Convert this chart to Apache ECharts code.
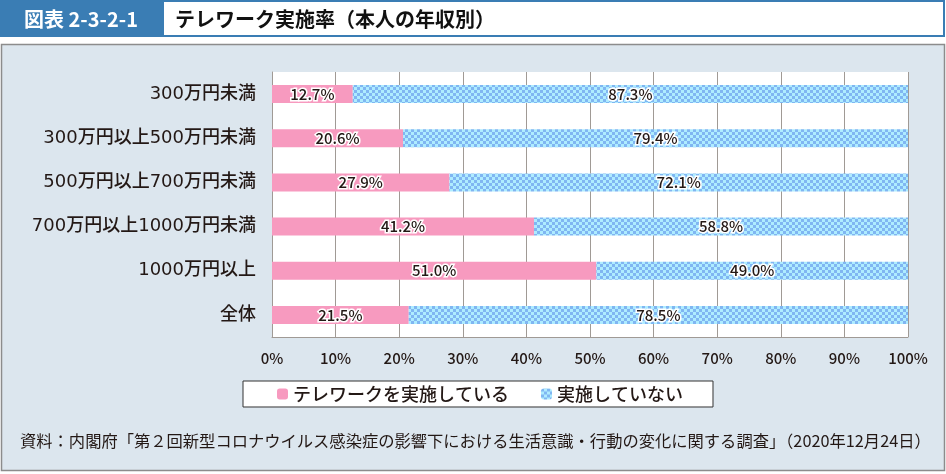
<!DOCTYPE html>
<html><head><meta charset="utf-8">
<script src="https://cdn.jsdelivr.net/npm/echarts@6/dist/echarts.min.js"></script>
<style>html,body{margin:0;padding:0;background:#fff}#c{width:946px;height:474px}</style>
</head><body><div id="c"></div>
<script>
const categories = ['300万円未満','300万円以上500万円未満','500万円以上700万円未満','700万円以上1000万円未満','1000万円以上','全体'];
const doingValues = [12.7, 20.6, 27.9, 41.2, 51.0, 21.5];
const notDoingValues = [87.3, 79.4, 72.1, 58.8, 49.0, 78.5];
const seriesNames = ['テレワークを実施している','実施していない'];
const xTickLabels = ['0%','10%','20%','30%','40%','50%','60%','70%','80%','90%','100%'];

const FONT = '"Noto Sans CJK JP", "Noto Sans", sans-serif';
const CATFONT = '"DejaVu Sans", "Noto Sans CJK JP", sans-serif';
const INK = '#231815';

const pc = document.createElement('canvas');
pc.width = 6; pc.height = 6;
const g = pc.getContext('2d');
g.fillStyle = '#aeecff'; g.fillRect(0,0,6,6);
g.fillStyle = '#80b6f2'; g.fillRect(0,0,3,3); g.fillRect(3,3,3,3);
const pattern = {image: pc, repeat: 'repeat'};

const chart = echarts.init(document.getElementById('c'), null, {renderer:'canvas'});
const lbl = {
  show: true, position: 'inside', color: INK, fontSize: 15, fontWeight: 500, fontFamily: FONT,
  textBorderColor: '#fff', textBorderWidth: 3,
  formatter: p => p.value.toFixed(1) + '%'
};
chart.setOption({
  animation: false,
  graphic: [
    {type:'rect', shape:{x:1.5,y:44.5,width:943,height:426}, style:{fill:'#dce6ee', stroke:'#8c8c8c', lineWidth:1.5}, z:-10},
    {type:'rect', shape:{x:1,y:1,width:943,height:35}, style:{fill:'#fff', stroke:'#3a7db4', lineWidth:2}, z:-10},
    {type:'rect', shape:{x:0,y:0,width:164,height:36}, style:{fill:'#3a7db4'}, z:-9},
    {type:'text', x:81, y:19, style:{text:'図表 2-3-2-1', fill:'#fff', font:'bold 20px '+FONT, align:'center', verticalAlign:'middle'}},
    {type:'text', x:175, y:19, style:{text:'テレワーク実施率（本人の年収別）', fill:'#111', font:'bold 20px '+FONT, align:'left', verticalAlign:'middle'}},
    {type:'text', x:20, y:441, style:{text:'資料：内閣府「第２回新型コロナウイルス感染症の影響下における生活意識・行動の変化に関する調査」（2020年12月24日）', fill:INK, font:'16.3px '+FONT, align:'left', verticalAlign:'middle'}}
  ],
  grid: {left:272, right:38, top:72, bottom:137, show:true, backgroundColor:'#fff', borderWidth:0},
  legend: {
    left: 243, top: 381, itemWidth: 11, itemHeight: 11, itemGap: 32,
    padding: [4, 30, 4, 34],
    borderColor: '#333', borderWidth: 1, backgroundColor: '#fff', borderRadius: 0,
    textStyle: {fontSize: 18, fontWeight: 500, color: INK, fontFamily: FONT},
    data: seriesNames
  },
  xAxis: {
    type:'value', min:0, max:100, interval:10,
    axisLine:{show:true, lineStyle:{color:'#a09a95'}},
    axisTick:{show:false},
    splitLine:{show:true, lineStyle:{color:'#a09a95', width:1}},
    axisLabel:{margin:14, fontSize:15, fontWeight:500, color:INK, fontFamily:FONT, formatter:(v)=>xTickLabels[Math.round(v/10)]}
  },
  yAxis: {
    type:'category', data:categories, inverse:true,
    axisLine:{show:true, lineStyle:{color:'#a09a95'}},
    axisTick:{show:false},
    axisLabel:{margin:16, fontSize:18, fontWeight:500, color:INK, fontFamily:CATFONT}
  },
  series: [
    {name:seriesNames[0], type:'bar', stack:'s', barWidth:18, data:doingValues, itemStyle:{color:'#f79abf'}, label:lbl},
    {name:seriesNames[1], type:'bar', stack:'s', barWidth:18, data:notDoingValues, itemStyle:{color:pattern}, label:lbl}
  ]
});
</script></body></html>
